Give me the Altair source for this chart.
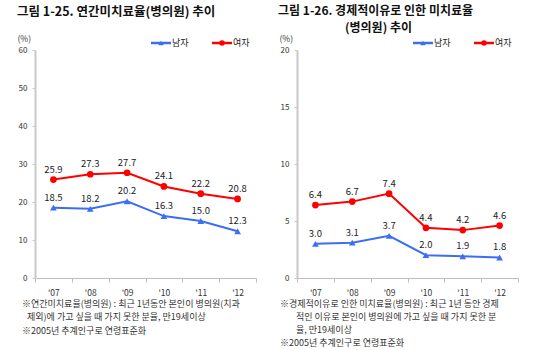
import altair as alt
import pandas as pd

years = ["'07", "'08", "'09", "'10", "'11", "'12"]
series = ["남자", "여자"]
left_men = [18.5, 18.2, 20.2, 16.3, 15.0, 12.3]
left_women = [25.9, 27.3, 27.7, 24.1, 22.2, 20.8]
right_men = [3.0, 3.1, 3.7, 2.0, 1.9, 1.8]
right_women = [6.4, 6.7, 7.4, 4.4, 4.2, 4.6]

left_title = ["그림 1-25. 연간미치료율(병의원) 추이"]
right_title = ["그림 1-26. 경제적이유로 인한 미치료율", "(병의원) 추이"]
left_notes = ["※연간미치료율(병의원) : 최근 1년동안 본인이 병의원(치과",
              "제외)에 가고 싶을 때 가지 못한 분율, 만19세이상",
              "※2005년 추계인구로 연령표준화"]
right_notes = ["※경제적이유로 인한 미치료율(병의원) : 최근 1년 동안 경제",
               "적인 이유로 본인이 병의원에 가고 싶을 때 가지 못한 분",
               "율, 만19세이상",
               "※2005년 추계인구로 연령표준화"]

FONT = "Noto Sans CJK KR"
COLORS = ["#3b6ef5", "#ff0000"]
SHAPES = ["triangle-up", "circle"]
W, H = 221, 228


def make_df(men, women):
    rows = []
    for s, vals in zip(series, [men, women]):
        for y, v in zip(years, vals):
            rows.append({"year": y, "series": s, "value": v})
    return pd.DataFrame(rows)


def text_layer(txt, x, y, size, weight="normal", color="#222"):
    return alt.Chart(pd.DataFrame({"t": [txt]})).mark_text(
        align="left", baseline="middle", font=FONT, fontSize=size,
        fontWeight=weight, color=color
    ).encode(x=alt.value(x), y=alt.value(y), text="t:N")


def panel(men, women, ymax, ystep, title_specs, note_specs, note_size):
    df = make_df(men, women)
    xenc = alt.X("year:N", sort=years, bandPosition=0.5,
                 scale=alt.Scale(type="band", paddingInner=0, paddingOuter=0),
                 axis=alt.Axis(title=None, tickBand="extent", labelAngle=0,
                               domainColor="#bfbfbf", tickColor="#bfbfbf",
                               tickSize=4, labelPadding=6, labelFontSize=8.5,
                               labelColor="#333", labelFont=FONT))
    yenc = alt.Y("value:Q", scale=alt.Scale(domain=[0, ymax], nice=False),
                 axis=alt.Axis(values=list(range(0, ymax + 1, ystep)),
                               title="(%)", titleAngle=0, titleX=-18, titleY=-12,
                               titleAlign="left", titleBaseline="middle",
                               titleFontSize=8.5, titleFontWeight="normal",
                               titleFont=FONT, titleColor="#333",
                               grid=False, domainColor="#c8c8c8", domainWidth=2,
                               tickColor="#c8c8c8", tickSize=3, labelPadding=5,
                               labelFontSize=8, labelColor="#333", labelFont=FONT))
    cscale = alt.Scale(domain=series, range=COLORS)
    base = alt.Chart(df).encode(x=xenc, y=yenc)
    line = base.mark_line(strokeWidth=2).encode(
        color=alt.Color("series:N", scale=cscale, legend=None))
    pts = base.mark_point(filled=True, size=45, opacity=1).encode(
        color=alt.Color("series:N", scale=cscale, legend=None),
        shape=alt.Shape("series:N", scale=alt.Scale(domain=series, range=SHAPES), legend=None))
    labels = base.mark_text(dy=-10, font=FONT, fontSize=9.5, color="#222").encode(
        text=alt.Text("value:Q", format=".1f"), detail="series:N")

    layers = [line, pts, labels]
    # legend
    for i, name in enumerate(series):
        x0 = 116 + 61 * i
        ldf = pd.DataFrame({"t": [name]})
        layers.append(alt.Chart(ldf).mark_rule(strokeWidth=2.5, color=COLORS[i]).encode(
            x=alt.value(x0), x2=alt.value(x0 + 20), y=alt.value(-7)))
        layers.append(alt.Chart(ldf).mark_point(filled=True, opacity=1, size=30, color=COLORS[i]).encode(
            x=alt.value(x0 + 10), y=alt.value(-7), shape=alt.value(SHAPES[i])))
        layers.append(alt.Chart(ldf).mark_text(align="left", baseline="middle", font=FONT,
                                               fontSize=9, color="#222").encode(
            x=alt.value(x0 + 21), y=alt.value(-7), text="t:N"))
    for txt, x, y, size in title_specs:
        layers.append(text_layer(txt, x, y, size, "bold", "#111"))
    for txt, x, y in note_specs:
        layers.append(text_layer(txt, x, y, note_size, "normal", "#333"))
    return alt.layer(*layers).properties(width=W, height=H)


left = panel(left_men, left_women, 60, 10,
             [(left_title[0], -18, -38, 12.5)],
             [(left_notes[0], -13, 254), (left_notes[1], -8, 267), (left_notes[2], -13, 281)],
             9)
right = panel(right_men, right_women, 20, 5,
              [(right_title[0], -19, -39.5, 12), (right_title[1], 48, -22.5, 12)],
              [(right_notes[0], -17, 254), (right_notes[1], -1, 267),
               (right_notes[2], -1, 280), (right_notes[3], -17, 293)],
              9)

chart = alt.hconcat(left, right, spacing=41, bounds="flush").properties(
    padding={"left": 17, "top": 4, "right": 5, "bottom": 2}
).configure_view(stroke=None)

chart.save("out.html", embed_options={"renderer": "svg", "actions": False})
